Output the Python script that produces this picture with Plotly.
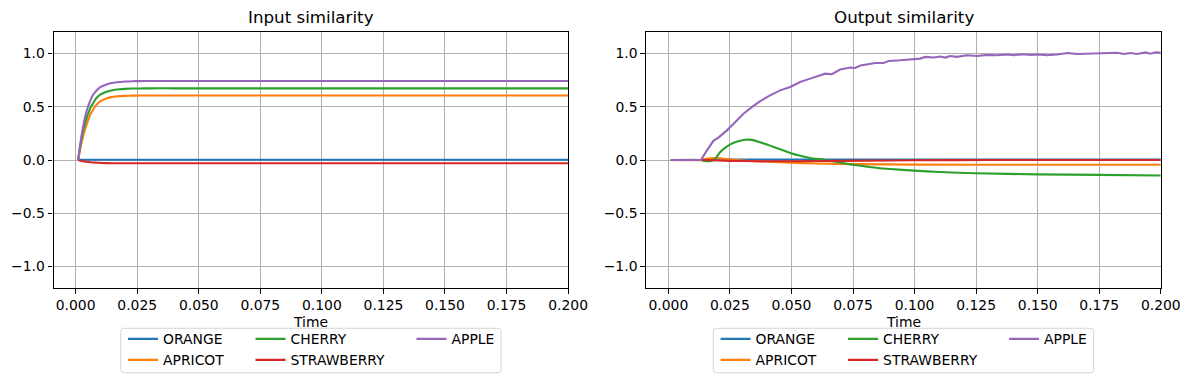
import plotly.graph_objects as go

# ---------------- data ----------------
SERIES = ["ORANGE", "APRICOT", "CHERRY", "STRAWBERRY", "APPLE"]
COLORS = ["#1f77b4", "#ff7f0e", "#2ca02c", "#d62728", "#9467bd"]

# Input similarity (left)
in_time = [0.001, 0.002, 0.003, 0.004, 0.005, 0.006, 0.007, 0.008, 0.009, 0.010,
           0.012, 0.014, 0.016, 0.018, 0.020, 0.023, 0.026, 0.030, 0.040, 0.060,
           0.100, 0.150, 0.200]
in_orange = [0.000, 0.001, 0.002, 0.002, 0.003, 0.003, 0.003, 0.003, 0.003, 0.003,
             0.003, 0.003, 0.003, 0.003, 0.003, 0.003, 0.003, 0.003, 0.003, 0.003,
             0.003, 0.003, 0.003]
in_apricot = [0.000, 0.120, 0.220, 0.300, 0.370, 0.430, 0.470, 0.505, 0.530, 0.550,
              0.574, 0.588, 0.596, 0.600, 0.602, 0.604, 0.605, 0.605, 0.605, 0.605,
              0.605, 0.605, 0.605]
in_cherry = [0.000, 0.150, 0.270, 0.360, 0.430, 0.490, 0.530, 0.570, 0.595, 0.613,
             0.636, 0.651, 0.660, 0.665, 0.668, 0.671, 0.672, 0.673, 0.673, 0.673,
             0.673, 0.673, 0.673]
in_strawberry = [0.000, -0.006, -0.011, -0.015, -0.018, -0.021, -0.023, -0.025, -0.026, -0.027,
                 -0.029, -0.030, -0.031, -0.031, -0.031, -0.031, -0.031, -0.031, -0.031, -0.031,
                 -0.031, -0.031, -0.031]
in_apple = [0.000, 0.170, 0.310, 0.420, 0.500, 0.560, 0.610, 0.640, 0.665, 0.685,
            0.705, 0.720, 0.728, 0.733, 0.737, 0.740, 0.741, 0.742, 0.742, 0.742,
            0.742, 0.742, 0.742]

# Output similarity (right)
out_orange_t = [0.001, 0.013, 0.025, 0.050, 0.100, 0.200]
out_orange_v = [0.000, 0.000, 0.004, 0.004, 0.004, 0.004]
out_apricot_t = [0.001, 0.013, 0.015, 0.018, 0.021, 0.025, 0.030, 0.040, 0.050, 0.060,
                 0.075, 0.100, 0.150, 0.200]
out_apricot_v = [0.000, 0.000, 0.010, 0.018, 0.015, 0.005, -0.005, -0.017, -0.026, -0.033,
                 -0.039, -0.043, -0.045, -0.045]
out_cherry_t = [0.001, 0.013, 0.0145, 0.0165, 0.018, 0.019, 0.021, 0.0237, 0.027, 0.0312,
                0.0339, 0.0373, 0.0413, 0.0454, 0.0495, 0.0535, 0.0576, 0.0637, 0.070, 0.075,
                0.080, 0.085, 0.090, 0.100, 0.110, 0.125, 0.150, 0.175, 0.200]
out_cherry_v = [0.000, 0.000, -0.008, -0.012, -0.005, 0.010, 0.072, 0.125, 0.166, 0.190,
                0.189, 0.166, 0.135, 0.100, 0.066, 0.040, 0.019, 0.000, -0.025, -0.045,
                -0.060, -0.075, -0.085, -0.100, -0.112, -0.125, -0.135, -0.140, -0.145]
out_strawberry_t = [0.001, 0.015, 0.020, 0.030, 0.045, 0.060, 0.080, 0.100, 0.130, 0.200]
out_strawberry_v = [0.000, 0.000, -0.005, -0.010, -0.012, -0.010, -0.006, -0.003, 0.000, 0.000]
out_apple_t = [0.001, 0.0132, 0.0156, 0.0183, 0.0203, 0.0237, 0.0271, 0.0305, 0.0339, 0.0373,
               0.0413, 0.0454, 0.0495, 0.0535, 0.0576, 0.0589, 0.0637, 0.0664, 0.0698, 0.0739,
               0.0759, 0.0780, 0.0820, 0.0840, 0.0874, 0.0894, 0.0942, 0.0983, 0.1003, 0.1023,
               0.1044, 0.1077, 0.1104, 0.1125, 0.1145, 0.1172, 0.1213, 0.1254, 0.1294, 0.1335,
               0.1376, 0.1402, 0.1443, 0.1470, 0.1504, 0.1538, 0.1579, 0.1620, 0.1660, 0.1701,
               0.1742, 0.1783, 0.1823, 0.1850, 0.1877, 0.1904, 0.1938, 0.1958, 0.1979, 0.2000]
out_apple_v = [0.000, 0.000, 0.088, 0.180, 0.210, 0.276, 0.355, 0.434, 0.496, 0.553,
               0.607, 0.654, 0.685, 0.732, 0.764, 0.774, 0.811, 0.805, 0.849, 0.868,
               0.864, 0.887, 0.899, 0.911, 0.911, 0.930, 0.936, 0.943, 0.946, 0.952,
               0.968, 0.962, 0.972, 0.962, 0.977, 0.968, 0.984, 0.977, 0.987, 0.984,
               0.990, 0.984, 0.993, 0.987, 0.990, 0.984, 0.990, 1.005, 0.995, 0.998,
               0.998, 1.005, 1.007, 0.995, 1.005, 0.995, 1.010, 0.998, 1.012, 1.007]

x_tickvals = [0.0, 0.025, 0.05, 0.075, 0.1, 0.125, 0.15, 0.175, 0.2]
x_ticktext = ["0.000", "0.025", "0.050", "0.075", "0.100", "0.125", "0.150", "0.175", "0.200"]
y_tickvals = [-1.0, -0.5, 0.0, 0.5, 1.0]
y_ticktext = ["\u22121.0", "\u22120.5", "0.0", "0.5", "1.0"]

titles = ["Input similarity", "Output similarity"]
x_label = "Time"

# ---------------- figure ----------------
W, H = 1189, 383
FONT = "DejaVu Sans"
FS = 13.9

left_series = [(in_time, in_orange), (in_time, in_apricot), (in_time, in_cherry),
               (in_time, in_strawberry), (in_time, in_apple)]
right_series = [(out_orange_t, out_orange_v), (out_apricot_t, out_apricot_v),
                (out_cherry_t, out_cherry_v), (out_strawberry_t, out_strawberry_v),
                (out_apple_t, out_apple_v)]
legend_col = [0, 0, 1, 1, 2]

fig = go.Figure()
for panel, (series, ax) in enumerate([(left_series, ("x", "y")), (right_series, ("x2", "y2"))]):
    for i, (tx, vy) in enumerate(series):
        lg_idx = panel * 3 + legend_col[i]
        lg = "legend" if lg_idx == 0 else f"legend{lg_idx + 1}"
        smooth = not (panel == 1 and i == 4)
        fig.add_trace(go.Scatter(
            x=tx, y=vy, mode="lines", name=SERIES[i],
            line=dict(color=COLORS[i], width=2.1,
                      shape="spline" if smooth else "linear",
                      smoothing=0.6 if smooth else None),
            xaxis=ax[0], yaxis=ax[1], legend=lg, showlegend=True,
        ))

px = lambda v: v / W
py = lambda v: 1 - v / H

ax_left = [53.5, 646.2]
ax_w = 514.6
ax_top, ax_bot = 32.2, 287.8
ydom = [py(ax_bot), py(ax_top)]

axis_common = dict(
    showline=True, mirror=True, linecolor="black", linewidth=1.1,
    showgrid=True, gridcolor="#b0b0b0", gridwidth=1.1, zeroline=False,
    ticks="outside", ticklen=4.9, tickwidth=1.1, tickcolor="black",
    tickfont=dict(family=FONT, size=FS, color="black"), automargin=False,
)

layout = dict(
    template="none",
    width=W, height=H, autosize=False,
    margin=dict(l=0, r=0, t=0, b=0, pad=0),
    paper_bgcolor="white", plot_bgcolor="white",
    font=dict(family=FONT, size=FS, color="black"),
    annotations=[], shapes=[],
)
for p in range(2):
    sfx = "" if p == 0 else "2"
    xd = [px(ax_left[p]), px(ax_left[p] + ax_w)]
    layout["xaxis" + sfx] = dict(axis_common, domain=xd, range=[-0.009, 0.2],
                                 tickvals=x_tickvals, ticktext=x_ticktext,
                                 anchor="y" + sfx)
    layout["yaxis" + sfx] = dict(axis_common, domain=ydom, range=[-1.2, 1.2],
                                 tickvals=y_tickvals, ticktext=y_ticktext,
                                 anchor="x" + sfx, ticklabelstandoff=0)
    cx = (xd[0] + xd[1]) / 2
    layout["annotations"].append(dict(
        text=titles[p], x=cx, y=py(17.5), xref="paper", yref="paper",
        xanchor="center", yanchor="middle", showarrow=False,
        font=dict(family=FONT, size=16.7, color="black")))
    layout["annotations"].append(dict(
        text=x_label, x=cx, y=py(321.5), xref="paper", yref="paper",
        xanchor="center", yanchor="middle", showarrow=False,
        font=dict(family=FONT, size=FS, color="black")))

    off = p * 592.6
    x0, x1, y0, y1 = 120.7 + off, 501 + off, 328.3, 372.7
    r = 3
    path = (f"M {px(x0 + r)},{py(y0)} L {px(x1 - r)},{py(y0)} "
            f"Q {px(x1)},{py(y0)} {px(x1)},{py(y0 + r)} L {px(x1)},{py(y1 - r)} "
            f"Q {px(x1)},{py(y1)} {px(x1 - r)},{py(y1)} L {px(x0 + r)},{py(y1)} "
            f"Q {px(x0)},{py(y1)} {px(x0)},{py(y1 - r)} L {px(x0)},{py(y0 + r)} "
            f"Q {px(x0)},{py(y0)} {px(x0 + r)},{py(y0)} Z")
    layout["shapes"].append(dict(type="path", path=path, xref="paper", yref="paper",
                                 line=dict(color="#d6d6d6", width=1), layer="above"))
    col_x = [123.0, 250.5, 411.5]
    for c in range(3):
        idx = p * 3 + c
        key = "legend" if idx == 0 else f"legend{idx + 1}"
        layout[key] = dict(
            x=px(col_x[c] + off), y=py(323.3), xanchor="left", yanchor="top",
            orientation="v", bgcolor="rgba(0,0,0,0)", borderwidth=0,
            font=dict(family=FONT, size=FS, color="black"), traceorder="normal",
        )

fig.update_layout(**layout)
fig.write_html(
    "out.html",
    config={"displayModeBar": False, "responsive": False},
    post_script=("document.documentElement.style.margin='0';"
                 "document.body.style.margin='0';"
                 "document.body.style.padding='0';"
                 "document.documentElement.style.overflow='hidden';"
                 "document.body.style.overflow='hidden';"),
)
